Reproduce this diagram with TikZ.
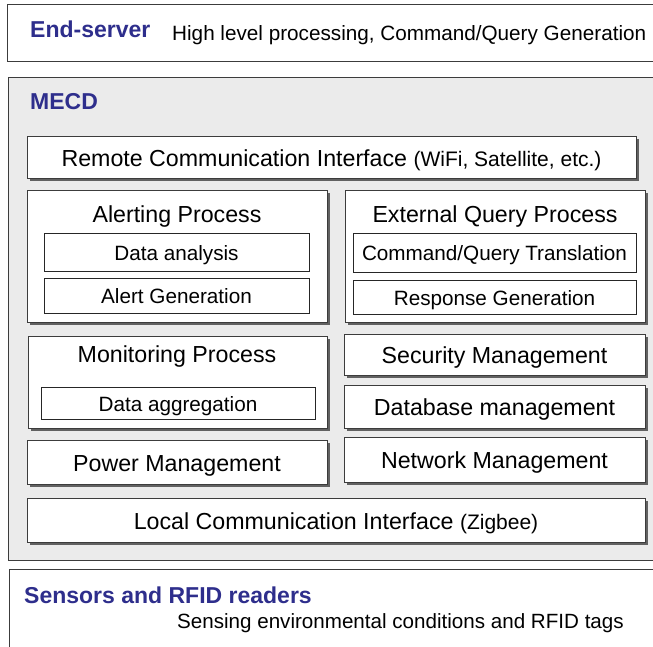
\documentclass[tikz,border=0pt]{standalone}
\usepackage{fontspec}
\setmainfont{Liberation Sans}
\usetikzlibrary{shadows}
\definecolor{titleblue}{RGB}{46,46,140}
\definecolor{panelgray}{RGB}{235,235,235}
\definecolor{edgegray}{RGB}{60,60,60}
\newcommand{\fsz}[1]{\fontsize{#1}{#1}\selectfont}
% \blockbox{style}{name}{x1}{y1}{x2}{y2}{text}
\newcommand{\blockbox}[7]{%
  \node[#1, inner sep=0pt, minimum width={#5-#3}, minimum height={#6-#4}]
    (#2) at ({(#3+#5)/2},{(#4+#6)/2}) {#7};}
\begin{document}
\begin{tikzpicture}[x=1pt,y=-1pt,
  frame/.style={draw=edgegray, line width=0.9pt, fill=white},
  unit/.style={frame, drop shadow={shadow xshift=2.5pt, shadow yshift=-2.5pt, fill=black!62, opacity=1}},
  sub/.style={draw=black!85, line width=0.8pt, fill=white},
  % text box reduced to the cap height, so the caps centre on the node
  capline/.style={text height=#1, text depth=0pt},
  heading/.style={font=\bfseries\fsz{23}, text=titleblue, anchor=west, inner sep=0pt, capline=16.5pt},
  plain/.style={anchor=west, inner sep=0pt, capline=14.8pt},
  title/.style={font=\fsz{23.2}, inner sep=0pt, capline=16.6pt},
  txt/.style={font=\fsz{23.2}, capline=18.6pt},
  subtxt/.style={font=\fsz{20.7}, capline=16.8pt},
]
\clip (0,0) rectangle (653,646);
\fill[white] (0,0) rectangle (653,646);

% tiers
\blockbox{frame}{server}{7}{4}{680}{61}{}
\blockbox{frame, fill=panelgray}{mecd}{8}{77}{680}{560}{}
\blockbox{frame}{sensors}{9}{569}{680}{680}{}

\node[heading] (serverhead) at (30,29) {End-server};
\node[plain, font=\fsz{20.7}] (servertask) at (172,33.5) {High level processing, Command/Query Generation};
\node[heading] (mecdhead) at (30,101) {MECD};
\node[heading] (sensorhead) at (24,595.5) {Sensors and RFID readers};
\node[plain, font=\fsz{20.6}] (sensortask) at (177,621) {Sensing environmental conditions and RFID tags};

% MECD modules
\blockbox{unit, txt}{remote}{27}{136}{636}{178}{Remote Communication Interface {\fsz{21}(WiFi, Satellite, etc.)}}

\blockbox{unit}{alert}{27}{190}{327}{322}{}
\node[title] (alerthead) at (177,214.5) {Alerting Process};
\blockbox{sub, subtxt}{analysis}{44}{233}{309}{271}{Data analysis}
\blockbox{sub, subtxt}{alertgen}{44}{278}{309}{313}{Alert Generation}

\blockbox{unit}{query}{345}{190}{645}{322}{}
\node[title] (queryhead) at (495,214) {External Query Process};
\blockbox{sub, subtxt}{translate}{353}{233}{636}{272}{Command/Query Translation}
\blockbox{sub, subtxt}{response}{353}{280}{636}{314}{Response Generation}

\blockbox{unit}{monitor}{28}{336}{327}{428}{}
\node[title] (monitorhead) at (177,354) {Monitoring Process};
\blockbox{sub, subtxt}{aggregate}{41}{387}{315}{419}{Data aggregation}

\blockbox{unit, txt}{power}{27}{440}{327}{484}{Power Management}
\blockbox{unit, txt}{security}{344}{334}{645}{375}{Security Management}
\blockbox{unit, txt}{database}{344}{385}{645}{428}{Database management}
\blockbox{unit, txt}{network}{344}{437}{645}{482}{Network Management}
\blockbox{unit, txt}{local}{27}{498}{645}{542}{Local Communication Interface {\fsz{21}(Zigbee)}}
\end{tikzpicture}
\end{document}
